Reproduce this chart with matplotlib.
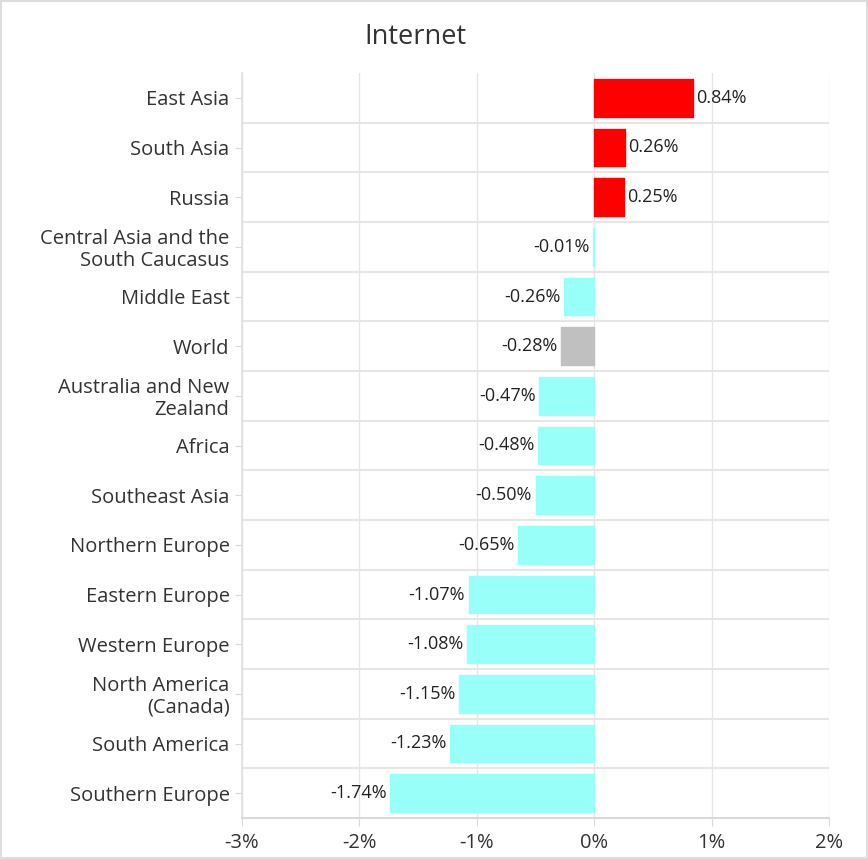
import matplotlib
matplotlib.use('Agg')
from matplotlib import pyplot as plt
from matplotlib.patches import Rectangle

regions = ['East Asia', 'South Asia', 'Russia', 'Central Asia and the\nSouth Caucasus',
           'Middle East', 'World', 'Australia and New\nZealand', 'Africa',
           'Southeast Asia', 'Northern Europe', 'Eastern Europe', 'Western Europe',
           'North America\n(Canada)', 'South America', 'Southern Europe']
values = [0.84, 0.26, 0.25, -0.01, -0.26, -0.28, -0.47, -0.48,
          -0.50, -0.65, -1.07, -1.08, -1.15, -1.23, -1.74]
x_ticks = [-3, -2, -1, 0, 1, 2]

plt.rcParams['font.family'] = ['Open Sans', 'DejaVu Sans']

def bar_color(name, v):
    if name == 'World':
        return '#c0c0c0'
    return '#ff0000' if v > 0 else '#99fff9'

fig = plt.figure(figsize=(8.68, 8.59), dpi=100)
ax = fig.add_axes([242 / 868, 1 - 818 / 859, (829 - 242) / 868, (818 - 73) / 859])

ypos = list(range(len(regions)))
colors = [bar_color(r, v) for r, v in zip(regions, values)]
ax.barh(ypos, values, height=0.76, color=colors, edgecolor=colors,
        linewidth=1, joinstyle='round', zorder=3)

for y, v in zip(ypos, values):
    if v >= 0:
        ax.text(v + 0.03, y, f'{v:.2f}%', va='center', ha='left',
                fontsize=13, color='#222222', zorder=4)
    else:
        ax.text(v - 0.03, y, f'{v:.2f}%', va='center', ha='right',
                fontsize=13, color='#222222', zorder=4)

ax.set_xlim(-3, 2)
ax.set_ylim(len(regions) - 0.5, -0.5)
ax.set_xticks(x_ticks)
ax.set_xticklabels([f'{t}%' for t in x_ticks], fontsize=14.5, color='#333333')
ax.set_yticks(ypos)
ax.set_yticklabels(regions, fontsize=14.5, color='#333333', linespacing=1.1)

ax.grid(axis='x', color='#e6e6e6', linewidth=1, zorder=0)
for y in ypos[:-1]:
    ax.axhline(y + 0.5, color='#e6e6e6', linewidth=1.5, zorder=1)

for s in ['top', 'right']:
    ax.spines[s].set_visible(False)
ax.spines['left'].set_color('#e0e0e0')
ax.spines['bottom'].set_color('#d9d9d9')
ax.spines['left'].set_linewidth(1.2)
ax.spines['bottom'].set_linewidth(1.5)
ax.tick_params(axis='y', length=5, color='#d9d9d9', pad=4)
ax.tick_params(axis='x', length=6, color='#d9d9d9', pad=5)

fig.text(415 / 868, 1 - 37 / 859, 'Internet', ha='center', va='center',
         fontsize=19.5, color='#333333')

fig.patches.append(Rectangle((0.001, 0.001), 0.998, 0.998, transform=fig.transFigure,
                             fill=False, edgecolor='#dddddd', linewidth=1.5))

fig.savefig('out.png', dpi=100)
